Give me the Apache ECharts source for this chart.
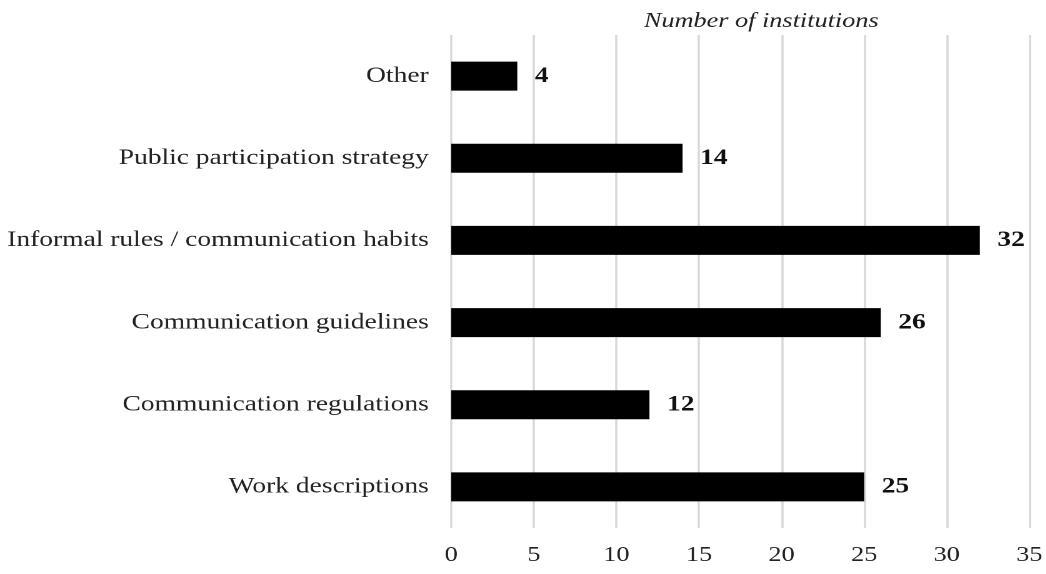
<!DOCTYPE html>
<html>
<head>
<meta charset="utf-8">
<script src="https://cdn.jsdelivr.net/npm/echarts@6/dist/echarts.min.js"></script>
<style>
  html, body { margin: 0; padding: 0; background: #fff; overflow: hidden; }
  /* the original picture is stretched sideways, so the chart is drawn narrow and widened */
  #chart { width: 837px; height: 574px; transform: scaleX(1.25); transform-origin: 0 0; }
</style>
</head>
<body>
<div id="chart"></div>
<script>
// data, bottom to top as on the picture
const categories = [
    'Work descriptions',
    'Communication regulations',
    'Communication guidelines',
    'Informal rules / communication habits',
    'Public participation strategy',
    'Other'
];
const institutions = [25, 12, 26, 32, 14, 4];
const xTicks = [0, 5, 10, 15, 20, 25, 30, 35];

const serif = '"Liberation Serif", "DejaVu Serif", serif';

const chart = echarts.init(document.getElementById('chart'), null, { devicePixelRatio: 2 });
chart.setOption({
    animation: false,
    textStyle: { fontFamily: serif },
    title: {
        text: 'Number of institutions',
        left: 604,
        textAlign: 'center',
        top: 6,
        textStyle: { fontFamily: serif, fontStyle: 'italic', fontWeight: 'normal', fontSize: 21, color: '#222' }
    },
    grid: { left: 361, right: 12, top: 35, bottom: 46 },
    xAxis: {
        type: 'value',
        min: xTicks[0],
        max: xTicks[xTicks.length - 1],
        interval: 5,
        axisLine: { show: false },
        axisTick: { show: false },
        axisLabel: { fontFamily: serif, fontSize: 21, color: '#222', margin: 17 },
        splitLine: { lineStyle: { color: '#d9d9d9', width: 1.8 } }
    },
    yAxis: {
        type: 'category',
        data: categories,
        axisLine: { show: false },
        axisTick: { show: false },
        axisLabel: { fontFamily: serif, fontSize: 22, color: '#222', margin: 18 }
    },
    series: [{
        type: 'bar',
        data: institutions,
        barWidth: 29,
        itemStyle: { color: '#000' },
        label: {
            show: true,
            position: 'right',
            distance: 14,
            fontFamily: serif,
            fontWeight: 'bold',
            fontSize: 22,
            color: '#111'
        }
    }]
});
</script>
</body>
</html>
